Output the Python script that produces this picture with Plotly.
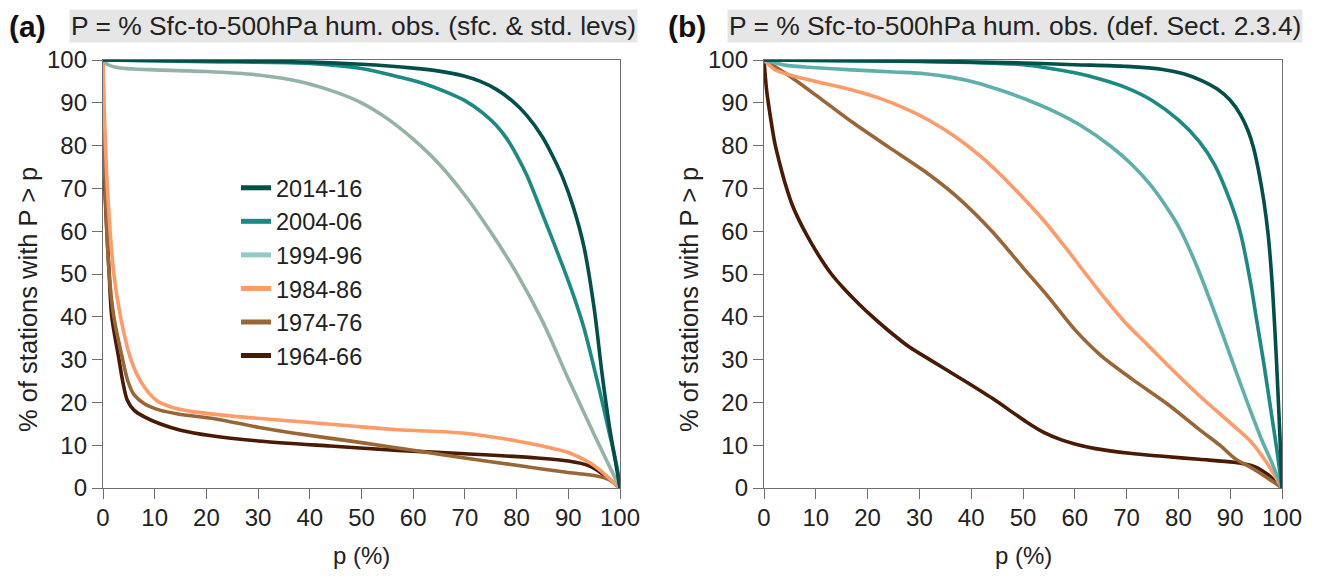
import plotly.graph_objects as go

# page is shown with the browser's default 8px body margin
OFF = 8
W, H = 1317 - OFF, 579 - OFF

periods = ["2014-16", "2004-06", "1994-96", "1984-86", "1974-76", "1964-66"]
line_colors_a = ["#03504a", "#1b8a84", "#93b3a5", "#fe9b69", "#9b6636", "#4b1a04"]
line_colors_b = ["#03504a", "#1b8a84", "#5fb0aa", "#fe9b69", "#9b6636", "#4b1a04"]
legend_colors = ["#03504a", "#1b8a84", "#93cac6", "#fe9b69", "#9b6636", "#4b1a04"]

# Panel (a): P = % Sfc-to-500hPa hum. obs. (sfc. & std. levs)
a_2014_p = [0, 20, 40, 50, 60, 65, 70, 73, 76, 79, 82, 85, 87, 89, 91, 93, 95, 96.5, 98, 99, 100]
a_2014_v = [100, 99.8, 99.5, 99.0, 98.1, 97.4, 96.2, 95.0, 93.2, 90.6, 87.0, 82.0, 77.5, 72.3, 65.5, 56.5, 42.0, 27.0, 14.0, 7.0, 0]
a_2004_p = [0, 20, 40, 50, 57, 62, 67, 70, 73.5, 76, 78, 80, 82, 85, 89, 91, 93, 96, 98, 99.4, 100]
a_2004_v = [100, 99.6, 99.2, 98.0, 96.1, 94.5, 92.2, 90.5, 87.6, 84.8, 81.8, 77.8, 73.0, 64.0, 51.6, 45.0, 37.5, 23.0, 12.5, 5.0, 0]
a_1994_p = [0, 1, 3, 6, 10, 20, 30, 38, 45, 50, 55, 60, 65, 70, 75, 80, 85, 90, 95, 100]
a_1994_v = [100, 98.9, 98.2, 97.9, 97.7, 97.3, 96.5, 95.0, 92.5, 90.0, 86.3, 81.5, 75.7, 68.4, 59.8, 50.2, 39.0, 25.5, 12.5, 0]
a_1984_p = [0, 0.2, 0.85, 2.1, 3.4, 5.4, 7.5, 10.3, 13, 17, 25, 37, 47, 57, 70, 80, 85, 90, 94, 96, 98, 100]
a_1984_v = [100, 90, 70, 50, 40, 30, 24.5, 20.5, 19.0, 17.9, 16.8, 15.6, 14.6, 13.6, 12.8, 11.0, 9.8, 8.3, 6.0, 4.3, 2.2, 0]
a_1974_p = [0, 0.3, 1.2, 2.1, 3.8, 4.8, 6, 8, 11, 14.5, 21.6, 30, 37, 50, 60, 70, 80, 90, 95, 98, 100]
a_1974_v = [100, 75, 50, 40, 30, 25, 21.8, 19.7, 18.2, 17.3, 16.2, 14.2, 12.8, 10.6, 8.8, 7.0, 5.3, 3.6, 2.9, 1.9, 0]
a_1964_p = [0, 0.3, 1.2, 1.7, 3.1, 3.8, 4.7, 6, 8, 11, 15, 21, 30, 44, 57, 70, 84, 90, 94, 97, 100]
a_1964_v = [100, 72, 50, 40, 30, 25, 20.5, 18.2, 16.6, 15.0, 13.5, 12.2, 11.0, 9.8, 8.8, 8.0, 7.0, 6.3, 5.2, 3.0, 0]

# Panel (b): P = % Sfc-to-500hPa hum. obs. (def. Sect. 2.3.4)
b_2014_p = [0, 30, 50, 60, 70, 77, 81, 84.5, 87.5, 90, 92, 93.5, 94.5, 95.5, 96.5, 97.3, 98, 98.6, 99.1, 99.6, 100]
b_2014_v = [100, 99.7, 99.3, 98.9, 98.5, 97.8, 96.8, 95.2, 93.2, 90.6, 87.2, 83.3, 79.5, 74.0, 67.0, 59.5, 49.5, 37.5, 25.5, 12.0, 0]
b_2004_p = [0, 20, 40, 50, 60, 65, 70, 75, 80, 84, 87, 90, 92, 94, 95, 96.5, 98, 99, 100]
b_2004_v = [100, 99.8, 99.4, 98.9, 97.0, 95.5, 93.5, 90.5, 86.0, 81.0, 75.5, 67.0, 59.5, 47.5, 40.0, 29.0, 17.0, 9.0, 0]
b_1994_p = [0, 4, 10, 17, 25, 31, 36, 41, 46, 51, 56, 61, 67, 71, 74.5, 77.5, 80.3, 83.5, 87, 90, 93, 96, 98, 100]
b_1994_v = [100, 98.8, 98.2, 97.7, 97.2, 96.8, 96.0, 94.7, 92.8, 90.6, 88.0, 84.8, 79.8, 75.6, 71.0, 66.0, 60.5, 52.0, 41.0, 31.0, 21.0, 11.5, 6.0, 0]
b_1984_p = [0, 2, 5, 10, 17, 22, 27, 32, 37, 42, 46, 50, 54, 58, 62, 66, 70, 74, 78, 84, 90, 94, 97, 100]
b_1984_v = [100, 97.8, 96.5, 95.0, 93.0, 91.2, 88.8, 85.8, 82.0, 77.3, 72.8, 67.8, 62.5, 56.5, 50.2, 44.0, 38.3, 33.5, 28.6, 21.6, 15.2, 10.8, 6.0, 0]
b_1974_p = [0, 4, 10, 17, 24, 31, 37, 44, 50, 55, 60, 65, 71, 78, 84, 88, 91, 94, 97, 100]
b_1974_v = [100, 97.0, 91.8, 85.5, 79.7, 74.0, 68.3, 60.0, 51.5, 44.5, 37.0, 31.0, 25.5, 19.5, 13.7, 10.0, 6.8, 4.8, 2.5, 0]
b_1964_p = [0, 0.5, 1.2, 2.1, 3, 4, 5.5, 7, 9, 11, 13, 15.5, 17.5, 20.5, 24, 28, 32, 37, 44, 50.6, 54, 57.3, 60, 64, 70.6, 77, 84, 90.7, 94.7, 97.3, 99, 100]
b_1964_v = [100, 93, 87, 80.5, 76, 71.5, 66, 62, 57.5, 53.5, 50, 46.5, 44, 40.5, 36.8, 33, 30, 26.3, 21, 15.5, 13, 11.3, 10.3, 9.2, 8.1, 7.4, 6.7, 6.0, 5.0, 3.1, 1.2, 0]

panel_a = [(a_2014_p, a_2014_v), (a_2004_p, a_2004_v), (a_1994_p, a_1994_v),
           (a_1984_p, a_1984_v), (a_1974_p, a_1974_v), (a_1964_p, a_1964_v)]
panel_b = [(b_2014_p, b_2014_v), (b_2004_p, b_2004_v), (b_1994_p, b_1994_v),
           (b_1984_p, b_1984_v), (b_1974_p, b_1974_v), (b_1964_p, b_1964_v)]

x_ticks = list(range(0, 101, 10))
y_ticks = list(range(0, 101, 10))

FONT = "Liberation Sans, Arial, sans-serif"
TXT = "#222222"
LW = 3.6
SMOOTH = 0.85

fig = go.Figure()

for i in reversed(range(6)):
    p, v = panel_a[i]
    fig.add_trace(go.Scatter(x=p, y=v, mode="lines", xaxis="x", yaxis="y",
                             line=dict(color=line_colors_a[i], width=LW, shape="spline", smoothing=SMOOTH),
                             showlegend=False, hoverinfo="skip"))
for i in reversed(range(6)):
    p, v = panel_b[i]
    fig.add_trace(go.Scatter(x=p, y=v, mode="lines", xaxis="x2", yaxis="y2",
                             line=dict(color=line_colors_b[i], width=LW, shape="spline", smoothing=SMOOTH),
                             showlegend=False, hoverinfo="skip"))
for i in range(6):
    fig.add_trace(go.Scatter(x=[None], y=[None], mode="lines", xaxis="x", yaxis="y",
                             name=periods[i], legendgroup=periods[i],
                             line=dict(color=legend_colors[i], width=5)))

def px_x(px):
    return (px - OFF) / W

def px_y(py):
    return 1 - (py - OFF) / H

axis_common = dict(range=[0, 100], showgrid=False, zeroline=False, automargin=False,
                   showline=True, linecolor="#6e6e6e", linewidth=1.3, mirror=True,
                   ticks="outside", ticklen=10, tickwidth=1.3, tickcolor="#6e6e6e",
                   tickfont=dict(family=FONT, size=24, color=TXT),
                   fixedrange=True)

ydom = [px_y(488), px_y(60)]
fig.update_layout(
    width=W, height=H,
    margin=dict(l=0, r=0, t=0, b=0, autoexpand=False),
    paper_bgcolor="white", plot_bgcolor="white",
    font=dict(family=FONT, color=TXT),
    xaxis=dict(domain=[px_x(103), px_x(620)], anchor="y", tickvals=x_ticks, ticklabelstandoff=-2, **axis_common),
    yaxis=dict(domain=ydom, anchor="x", tickvals=y_ticks, **axis_common),
    xaxis2=dict(domain=[px_x(764), px_x(1282)], anchor="y2", tickvals=x_ticks, ticklabelstandoff=-2, **axis_common),
    yaxis2=dict(domain=ydom, anchor="x2", tickvals=y_ticks, **axis_common),
    legend=dict(x=px_x(236), y=px_y(166), xanchor="left", yanchor="top",
                bgcolor="rgba(0,0,0,0)", font=dict(family=FONT, size=23.5, color=TXT),
                itemwidth=30, tracegroupgap=4, traceorder="normal"),
    showlegend=True,
)

annots = [
    dict(text="<b>(a)</b>", x=px_x(7), y=px_y(8), xanchor="left", yanchor="top",
         font=dict(size=30, family=FONT, color="#111111")),
    dict(text="P = % Sfc-to-500hPa hum. obs. (sfc. & std. levs)", x=px_x(69), y=px_y(26),
         xanchor="left", yanchor="middle", bgcolor="#e6e6e6", borderpad=1,
         font=dict(size=26.4, family=FONT, color=TXT)),
    dict(text="<b>(b)</b>", x=px_x(666), y=px_y(8), xanchor="left", yanchor="top",
         font=dict(size=30, family=FONT, color="#111111")),
    dict(text="P = % Sfc-to-500hPa hum. obs. (def. Sect. 2.3.4)", x=px_x(727), y=px_y(26),
         xanchor="left", yanchor="middle", bgcolor="#e6e6e6", borderpad=1,
         font=dict(size=26.4, family=FONT, color=TXT)),
    # axis titles
    dict(text="p (%)", x=px_x((103 + 620) / 2), y=px_y(555), xanchor="center", yanchor="middle",
         font=dict(size=24, family=FONT, color=TXT)),
    dict(text="p (%)", x=px_x((764 + 1282) / 2), y=px_y(555), xanchor="center", yanchor="middle",
         font=dict(size=24, family=FONT, color=TXT)),
    dict(text="% of stations with P > p", x=px_x(28), y=px_y(300), xanchor="center", yanchor="middle",
         textangle=-90, font=dict(size=25.5, family=FONT, color=TXT)),
    dict(text="% of stations with P > p", x=px_x(689), y=px_y(300), xanchor="center", yanchor="middle",
         textangle=-90, font=dict(size=25.5, family=FONT, color=TXT)),
]
for a in annots:
    a.update(xref="paper", yref="paper", showarrow=False)
fig.update_layout(annotations=annots)

fig.write_html("out.html")
